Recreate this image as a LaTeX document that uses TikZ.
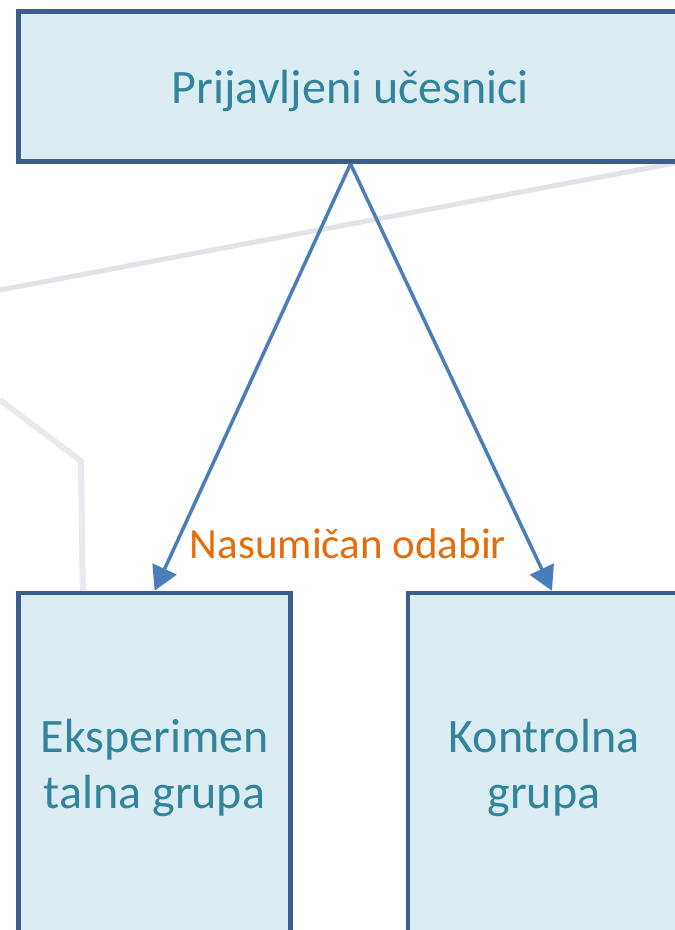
\documentclass[tikz,border=0pt]{standalone}
\usepackage{fontspec}
\setmainfont{Carlito}
\usepackage{tikz}
\usetikzlibrary{arrows.meta}

\definecolor{rahmenblau}{HTML}{3B5E8C}
\definecolor{kastenfill}{HTML}{DBEDF3}
\definecolor{schrifttuerkis}{HTML}{31849B}
\definecolor{pfeilblau}{HTML}{4A7EBB}
\definecolor{textorange}{HTML}{E46C0A}
\definecolor{hintergrau}{HTML}{E2E2E8}

\begin{document}
\begin{tikzpicture}
		[
		x=1pt, y=-1pt, >={Triangle[length=24pt, width=26pt]},
		%Voreinstellung für Kästen und Pfeile
		kasten/.style={draw=rahmenblau, fill=kastenfill, line width=4.5pt, text=schrifttuerkis, font=\fontsize{48}{56}\selectfont, align=center, inner sep=0pt},
		pfeil/.style={->, line width=3.5pt, pfeilblau}
		]
		
		%Bildgröße
		\useasboundingbox (0,0) rectangle (675,930);
		\clip (0,0) rectangle (675,930);
		
		%Linien im Hintergrund
		\draw [hintergrau, line width=5pt] (0,290) -- (675,163);
		\draw [hintergrau!80!white, line width=6pt, line join=round] (0,400) -- (81,461) -- (83,600);
		
		%Kästen
		\node [kasten, minimum width=664pt, minimum height=150pt, text height=44pt, text depth=10.6pt] (ucesnici) at (350.5,86.6) {Prijavljeni učesnici};
		\node [kasten, minimum width=272pt, minimum height=350pt] (eksperimentalna) at (154.6,768) {Eksperimen\\talna grupa};
		\node [kasten, minimum width=272pt, minimum height=350pt] (kontrolna) at (544,768) {Kontrolna\\grupa};
		
		%Pfeile
		\draw [pfeil] (ucesnici.south) -- (eksperimentalna.north);
		\draw [pfeil] (ucesnici.south) -- ([xshift=8pt]kontrolna.north);
		\node [text=textorange, font=\fontsize{43}{50}\selectfont, anchor=base] (odabir) at (348,558) {Nasumičan odabir};
	\end{tikzpicture}
\end{document}
